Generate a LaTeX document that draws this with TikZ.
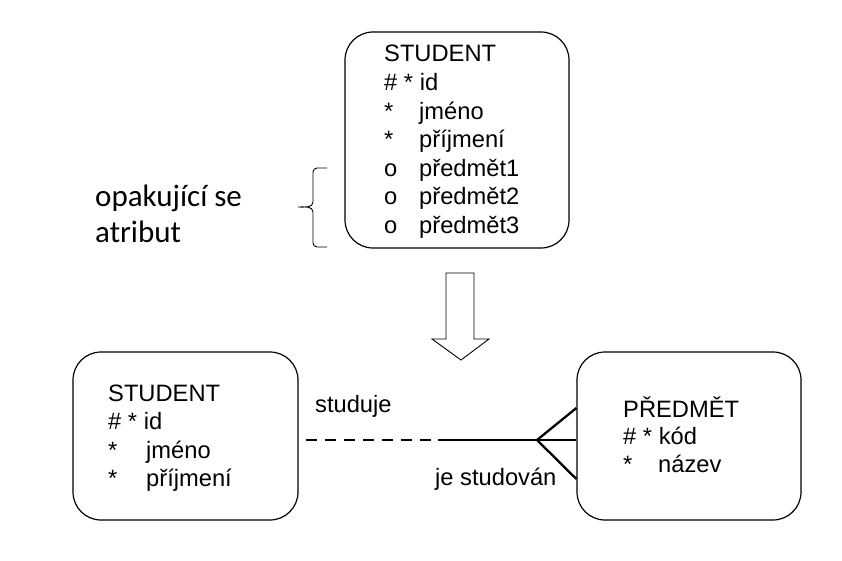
\documentclass[tikz,border=0pt]{standalone}
\usepackage{fontspec}
\setmainfont{Liberation Sans}
\newfontfamily\notefont{Carlito}
\usetikzlibrary{positioning}
\newcommand{\mk}[1]{\makebox[35pt][l]{#1}}
\newcommand{\mkw}[1]{\makebox[38pt][l]{#1}}

\begin{document}
\begin{tikzpicture}[x=1pt,y=-1pt,
                  entity/.style={draw,rounded corners=28pt,line width=1.2pt,inner sep=0pt},
                  attr/.style={anchor=base west,inner sep=0pt,font=\fontsize{23.7}{28}\selectfont},
                  note/.style={anchor=base west,inner sep=0pt,font=\notefont\fontsize{31}{35}\selectfont},
                  rel/.style={line width=2.3pt}
                ]
                \useasboundingbox (0,0) rectangle (842,561);
                % entities
                \node[entity,minimum width=224pt,minimum height=216pt] (student) at (457,140) {};
                \node[entity,minimum width=225pt,minimum height=168pt] (student2) at (185.5,436) {};
                \node[entity,minimum width=224pt,minimum height=168pt] (predmet) at (689,436) {};
                
                \foreach \t [count=\i from 0] in {STUDENT,\# * id,\mk{*}jméno,\mk{*}příjmení,\mk{o}předmět1,\mk{o}předmět2,\mk{o}předmět3}
                  \node[attr] (top-\i) at (384,62+28.6*\i) {\t};
                \foreach \t [count=\i from 0] in {STUDENT,\# * id,\mkw{*}jméno,\mkw{*}příjmení}
                  \node[attr] (left-\i) at (108,401+28.6*\i) {\t};
                \foreach \t [count=\i from 0] in {PŘEDMĚT,\# * kód,\mk{*}název}
                  \node[attr] (right-\i) at (623,417+27.8*\i) {\t};
                
                % repeating attribute note
                \node[note] (note1) at (95,207) {opakující se};
                \node[note] (note2) at (95,242) {atribut};
                \draw[line width=0.9pt] (327,168) -- (317,168) to[out=180,in=90] (313,172) -- (313,202)
                  to[out=270,in=0] (298,207) to[out=0,in=90] (313,212) -- (313,243)
                  to[out=270,in=180] (317,247) -- (327,247);
                
                % transformation arrow
                \draw[line width=0.9pt] (446,273) -- (474,273) -- (474,339) -- (489,339) -- (461,360)
                  -- (432,339) -- (446,339) -- cycle;
                
                % relationship
                \coordinate (fork) at (537,440);
                \coordinate (mid) at (438,440);
                \draw[rel,dash pattern=on 11pt off 8pt,shorten <=7pt] (student2.east |- mid) -- (mid);
                \draw[rel] (mid) -- (predmet.west |- fork);
                \draw[rel] (predmet.west |- 0,408) -- (fork) -- (predmet.west |- 0,479);
                \node[attr] (lbl1) at (315,412) {studuje};
                \node[attr] (lbl2) at (435,485) {je studován};
                \end{tikzpicture}
\end{document}
